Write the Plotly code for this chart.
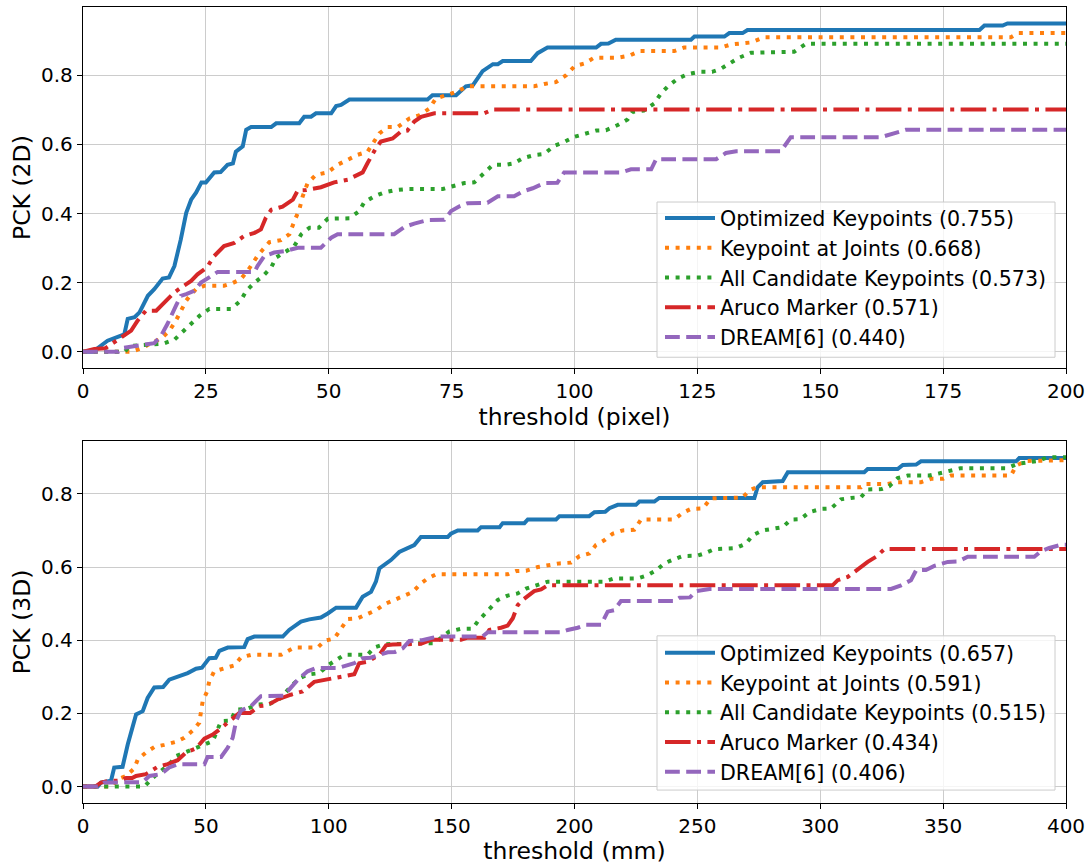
import plotly.graph_objects as go

# ---------------- data: top (2D, pixel) ----------------
top_blue_x = [0, 2, 5.0, 7.1, 8.4, 9.1, 10.5, 11.5, 13.2, 14.5, 16.2, 17.5, 18.6, 19.9, 21.0, 22.0, 23.0, 24.1, 25.0, 26.7, 28.0, 29.4, 30.5, 31.1, 32.5, 33.2, 34.2, 38.3, 39.3, 44.0, 45.0, 46.4, 47.4, 50.5, 51.5, 52.5, 54.2, 70.1, 71.1, 75.9, 77.9, 79.3, 81.3, 83.4, 84.4, 85.4, 91.1, 92.5, 94.5, 104.4, 105.4, 106.9, 108.4, 123.7, 124.4, 130.5, 131.5, 134.2, 135.2, 182.4, 183.4, 187.1, 188.1, 200]
top_blue_y = [0, 0, 0.032, 0.042, 0.05, 0.095, 0.10, 0.114, 0.162, 0.181, 0.212, 0.215, 0.248, 0.325, 0.402, 0.44, 0.46, 0.49, 0.49, 0.519, 0.52, 0.541, 0.545, 0.579, 0.594, 0.642, 0.65, 0.65, 0.661, 0.661, 0.68, 0.68, 0.69, 0.69, 0.711, 0.714, 0.73, 0.73, 0.742, 0.742, 0.768, 0.771, 0.812, 0.832, 0.832, 0.841, 0.841, 0.864, 0.88, 0.88, 0.891, 0.892, 0.903, 0.903, 0.912, 0.912, 0.922, 0.922, 0.931, 0.931, 0.944, 0.944, 0.950, 0.950]

top_orange_x = [0, 9.8, 12.1, 14.2, 15.8, 17.6, 18.9, 19.9, 21.0, 22.0, 23.0, 24.7, 28.7, 30.3, 32.1, 33.5, 34.5, 35.5, 36.6, 37.9, 40.3, 42.0, 43.0, 44.0, 44.7, 45.7, 47.4, 49.8, 51.8, 53.9, 55.9, 57.9, 60.3, 62.0, 64.0, 66.4, 68.4, 70.5, 71.8, 73.9, 75.9, 78.3, 91.8, 93.9, 96.2, 98.3, 100.0, 102.0, 104.0, 108.8, 111.2, 113.2, 120.3, 122.3, 129.8, 131.8, 134.0, 136.0, 138.6, 188.8, 190.2, 200]
top_orange_y = [0, 0, 0.011, 0.028, 0.037, 0.061, 0.09, 0.119, 0.148, 0.167, 0.181, 0.191, 0.191, 0.198, 0.21, 0.234, 0.258, 0.277, 0.296, 0.317, 0.323, 0.34, 0.378, 0.411, 0.45, 0.488, 0.512, 0.519, 0.541, 0.556, 0.57, 0.579, 0.632, 0.65, 0.65, 0.675, 0.684, 0.704, 0.733, 0.742, 0.752, 0.768, 0.768, 0.775, 0.78, 0.80, 0.826, 0.834, 0.851, 0.851, 0.857, 0.870, 0.870, 0.88, 0.88, 0.889, 0.891, 0.895, 0.91, 0.91, 0.922, 0.922]

top_green_x = [0, 8.5, 9.5, 14.5, 16.2, 18.6, 20.3, 22.0, 23.7, 25.7, 30.1, 32.1, 33.2, 34.9, 36.6, 38.3, 39.3, 41.3, 43.0, 44.4, 46.1, 48.0, 49.8, 54.2, 56.2, 57.2, 59.3, 61.3, 63.3, 66.0, 73.2, 75.2, 77.6, 79.6, 81.6, 83.4, 86.0, 87.7, 89.5, 91.8, 93.8, 95.9, 97.9, 100.0, 102.0, 104.4, 106.4, 108.8, 110.8, 111.8, 114.1, 116.2, 117.6, 119.0, 121.0, 123.0, 125.4, 128.0, 129.8, 131.8, 133.5, 135.9, 144.7, 147.1, 200]
top_green_y = [0, 0, 0.017, 0.02, 0.023, 0.035, 0.057, 0.081, 0.104, 0.124, 0.124, 0.148, 0.176, 0.2, 0.219, 0.244, 0.273, 0.29, 0.306, 0.34, 0.359, 0.359, 0.385, 0.386, 0.407, 0.432, 0.45, 0.461, 0.467, 0.471, 0.471, 0.479, 0.488, 0.49, 0.515, 0.541, 0.541, 0.545, 0.56, 0.569, 0.572, 0.596, 0.607, 0.622, 0.63, 0.64, 0.641, 0.656, 0.672, 0.694, 0.698, 0.718, 0.747, 0.768, 0.79, 0.803, 0.81, 0.81, 0.819, 0.836, 0.851, 0.865, 0.868, 0.891, 0.891]

top_red_x = [0, 2.3, 4.5, 6.4, 8.4, 9.8, 11.1, 12.8, 14.9, 16.9, 18.6, 19.9, 22.0, 23.3, 25.2, 26.7, 28.7, 30.8, 32.8, 34.9, 36.2, 37.2, 38.3, 40.6, 42.7, 43.7, 45.4, 48.4, 51.1, 53.9, 56.9, 57.9, 59.6, 60.6, 63.0, 64.7, 66.0, 67.4, 68.8, 71.5, 81.6, 83.4, 200]
top_red_y = [0, 0.008, 0.01, 0.028, 0.049, 0.061, 0.09, 0.119, 0.119, 0.148, 0.172, 0.185, 0.205, 0.224, 0.244, 0.277, 0.306, 0.315, 0.335, 0.344, 0.354, 0.388, 0.411, 0.42, 0.44, 0.467, 0.468, 0.476, 0.49, 0.498, 0.519, 0.546, 0.589, 0.608, 0.617, 0.637, 0.64, 0.666, 0.68, 0.69, 0.69, 0.701, 0.701]

top_purple_x = [0, 7.2, 8.2, 10.4, 13.2, 14.5, 15.9, 17.2, 18.9, 19.9, 21.0, 22.6, 24.0, 26.0, 27.4, 34.9, 35.5, 36.9, 38.9, 41.0, 43.7, 48.4, 50.5, 51.8, 63.3, 65.4, 67.4, 70.1, 73.5, 74.9, 76.6, 78.3, 82.3, 84.4, 87.7, 89.5, 91.5, 93.9, 96.5, 97.9, 109.5, 111.5, 115.6, 116.6, 128.8, 130.8, 132.9, 142.0, 144.0, 162.4, 165.1, 167.4, 200]
top_purple_y = [0, 0, 0.011, 0.015, 0.023, 0.025, 0.047, 0.081, 0.133, 0.162, 0.167, 0.176, 0.2, 0.22, 0.231, 0.231, 0.248, 0.277, 0.287, 0.291, 0.301, 0.301, 0.33, 0.34, 0.34, 0.361, 0.371, 0.381, 0.382, 0.407, 0.421, 0.43, 0.431, 0.45, 0.45, 0.464, 0.473, 0.488, 0.489, 0.519, 0.519, 0.528, 0.528, 0.557, 0.557, 0.575, 0.58, 0.58, 0.621, 0.621, 0.632, 0.642, 0.642]

# ---------------- data: bottom (3D, mm) ----------------
bot_blue_x = [0, 6, 7.3, 11.4, 12.7, 16.1, 18.2, 20.2, 21.6, 24.3, 26.3, 29.0, 32.6, 35.1, 38.5, 42.6, 46.0, 48.4, 51.4, 54.0, 55.5, 58.9, 65.6, 67.0, 69.7, 81.3, 83.9, 88.7, 92.1, 96.8, 99.6, 103.0, 111.1, 113.8, 117.2, 119.2, 120.6, 122.6, 125.3, 128.7, 132.1, 134.8, 137.5, 148.4, 149.7, 152.5, 160.6, 162, 169.5, 170.8, 179.6, 181, 192.5, 193.9, 206.0, 208.1, 212.5, 214.2, 217.6, 225, 226.4, 232.5, 234.5, 273.2, 274.5, 276.6, 284.7, 286.8, 317.9, 319.3, 331.5, 333.6, 339, 341, 379.7, 381.0, 400]
bot_blue_y = [0, 0, 0.011, 0.016, 0.052, 0.054, 0.115, 0.16, 0.197, 0.206, 0.242, 0.271, 0.272, 0.292, 0.301, 0.31, 0.322, 0.325, 0.351, 0.352, 0.371, 0.38, 0.381, 0.403, 0.41, 0.41, 0.428, 0.451, 0.457, 0.462, 0.473, 0.489, 0.489, 0.519, 0.532, 0.56, 0.596, 0.605, 0.619, 0.641, 0.652, 0.66, 0.682, 0.682, 0.691, 0.70, 0.70, 0.709, 0.709, 0.72, 0.72, 0.73, 0.73, 0.739, 0.739, 0.75, 0.751, 0.761, 0.77, 0.77, 0.779, 0.779, 0.789, 0.789, 0.818, 0.832, 0.835, 0.859, 0.859, 0.868, 0.868, 0.879, 0.88, 0.889, 0.889, 0.898, 0.898]

bot_orange_x = [0, 12, 14.1, 17.5, 20.9, 22.3, 25.6, 29.0, 33.1, 37.8, 41.2, 44.6, 47.3, 48.0, 48.7, 50.5, 51.4, 53.4, 57.5, 61.6, 64.3, 68.4, 80.6, 82.6, 86.0, 95.5, 98.2, 102.3, 105.0, 107.7, 111.8, 115.8, 119.2, 122.6, 126.7, 130.1, 134.2, 137.5, 140.3, 143.6, 172.8, 176.2, 180.3, 185, 189.1, 193.9, 198.6, 202, 206, 208.7, 212.1, 215.5, 219.6, 224.3, 227.1, 240.6, 244.0, 247.4, 252.2, 255.5, 268.4, 271.1, 274, 316.6, 317.9, 327.4, 331.5, 341, 345.1, 350, 353.2, 377.6, 379.7, 383.7, 400]
bot_orange_y = [0, 0, 0.02, 0.029, 0.05, 0.074, 0.093, 0.108, 0.114, 0.122, 0.133, 0.153, 0.174, 0.201, 0.233, 0.26, 0.288, 0.315, 0.322, 0.331, 0.353, 0.36, 0.36, 0.367, 0.38, 0.38, 0.398, 0.405, 0.433, 0.458, 0.46, 0.471, 0.482, 0.498, 0.51, 0.519, 0.532, 0.555, 0.569, 0.58, 0.58, 0.589, 0.59, 0.60, 0.605, 0.61, 0.612, 0.63, 0.637, 0.66, 0.673, 0.691, 0.70, 0.702, 0.73, 0.73, 0.748, 0.759, 0.76, 0.788, 0.79, 0.809, 0.818, 0.818, 0.827, 0.827, 0.832, 0.832, 0.841, 0.841, 0.85, 0.85, 0.877, 0.89, 0.892]

bot_green_x = [0, 25, 28.4, 31.7, 35.1, 37.8, 41.2, 45.3, 49.4, 52.8, 56.2, 60, 62.3, 66.4, 71.1, 76, 80.6, 84.6, 88.0, 91.4, 96.2, 99.6, 106.3, 115.8, 118.5, 122.6, 130, 133.5, 143, 149.1, 153.8, 158.5, 160.6, 164.7, 168.8, 172.8, 176.9, 180.3, 184.3, 189.1, 212.1, 216.2, 225.7, 229.8, 233.2, 236.6, 240, 244, 250, 252.8, 256.9, 265.7, 269.8, 272.5, 276.6, 284.7, 288.1, 292, 295.6, 300.3, 304.4, 308.4, 312.5, 316.6, 319.3, 325, 328.1, 331.5, 335.6, 344.4, 349.1, 353.2, 357, 376, 380.3, 384.4, 388.5, 392.5, 400]
bot_green_y = [0, 0, 0.024, 0.043, 0.061, 0.083, 0.092, 0.104, 0.116, 0.124, 0.179, 0.18, 0.21, 0.212, 0.224, 0.226, 0.242, 0.274, 0.295, 0.306, 0.31, 0.331, 0.36, 0.36, 0.38, 0.389, 0.39, 0.392, 0.392, 0.424, 0.431, 0.431, 0.451, 0.48, 0.51, 0.522, 0.528, 0.541, 0.55, 0.56, 0.56, 0.569, 0.569, 0.578, 0.591, 0.61, 0.62, 0.63, 0.631, 0.637, 0.649, 0.652, 0.664, 0.687, 0.70, 0.709, 0.73, 0.731, 0.75, 0.759, 0.76, 0.785, 0.789, 0.791, 0.812, 0.813, 0.821, 0.843, 0.85, 0.85, 0.857, 0.863, 0.87, 0.87, 0.882, 0.886, 0.89, 0.90, 0.90]

bot_red_x = [0, 5, 7.3, 11, 15, 17.5, 20, 21.6, 25.6, 30.4, 34.5, 38.5, 41.9, 46.0, 49.4, 52.8, 55.5, 58.9, 63.6, 68, 71.7, 75, 79.2, 84.6, 89.4, 94.1, 99.6, 105.7, 110.4, 112.4, 115.8, 120.6, 123.3, 126, 137.5, 141.6, 153.8, 156.5, 163.3, 165.3, 170.1, 172.8, 174.9, 176.9, 178.9, 183.6, 186.4, 189.1, 305, 307.1, 311.2, 313.9, 316.6, 319.3, 322.7, 326.1, 400]
bot_red_y = [0, 0, 0.011, 0.016, 0.016, 0.023, 0.023, 0.029, 0.034, 0.054, 0.061, 0.072, 0.093, 0.104, 0.131, 0.142, 0.156, 0.174, 0.201, 0.201, 0.22, 0.222, 0.238, 0.251, 0.26, 0.286, 0.292, 0.301, 0.307, 0.337, 0.341, 0.36, 0.386, 0.388, 0.390, 0.401, 0.401, 0.407, 0.407, 0.428, 0.434, 0.44, 0.46, 0.496, 0.51, 0.534, 0.539, 0.55, 0.55, 0.564, 0.573, 0.587, 0.60, 0.614, 0.628, 0.649, 0.649]

bot_purple_x = [0, 6, 8.7, 19.5, 24.3, 27, 31.7, 35.1, 38.5, 49.4, 50.7, 56.2, 58.9, 60.9, 62.3, 64.3, 68.4, 72.4, 81.9, 83.9, 87.4, 91.4, 94.8, 103.6, 107.7, 110.4, 113.8, 117, 120.6, 124, 127, 130.1, 132.8, 138, 142.3, 145, 162.6, 164.7, 194.5, 197.2, 201.3, 204.7, 210.8, 213.5, 216.2, 218.9, 240.6, 242.7, 247, 249.4, 255, 328.8, 332.9, 336.9, 339, 343, 346.4, 351.9, 356, 360, 387.1, 389.8, 393.2, 398, 400]
bot_purple_y = [0, 0, 0.011, 0.011, 0.012, 0.029, 0.034, 0.052, 0.061, 0.061, 0.081, 0.081, 0.106, 0.133, 0.179, 0.208, 0.22, 0.247, 0.248, 0.265, 0.292, 0.315, 0.324, 0.324, 0.331, 0.337, 0.351, 0.352, 0.36, 0.367, 0.368, 0.378, 0.398, 0.40, 0.407, 0.41, 0.41, 0.422, 0.422, 0.428, 0.434, 0.442, 0.442, 0.478, 0.482, 0.507, 0.507, 0.516, 0.517, 0.534, 0.54, 0.54, 0.55, 0.564, 0.591, 0.592, 0.603, 0.614, 0.615, 0.628, 0.628, 0.643, 0.652, 0.661, 0.661]

top_labels = ["Optimized Keypoints (0.755)", "Keypoint at Joints (0.668)",
              "All Candidate Keypoints (0.573)", "Aruco Marker (0.571)", "DREAM[6] (0.440)"]
bot_labels = ["Optimized Keypoints (0.657)", "Keypoint at Joints (0.591)",
              "All Candidate Keypoints (0.515)", "Aruco Marker (0.434)", "DREAM[6] (0.406)"]
x_ticks_top = [0, 25, 50, 75, 100, 125, 150, 175, 200]
x_ticks_bot = [0, 50, 100, 150, 200, 250, 300, 350, 400]
y_ticks = [0.0, 0.2, 0.4, 0.6, 0.8]

colors = ["#1f77b4", "#ff7f0e", "#2ca02c", "#d62728", "#9467bd"]
dashes = ["solid", "4px,6.6px", "4px,6.6px", "25.6px,6.4px,4px,6.4px", "14.8px,6.4px"]
LW = 4
FONT = "DejaVu Sans"

# pixel geometry helpers (plot area: x 83..1066, y 6..806)
L, R, T, B = 83, 1066, 6, 806
def px_x(X):
    return (X - L) / (R - L)
def px_y(Y):
    return (B - Y) / (B - T)

fig = go.Figure()
top_series = [(top_blue_x, top_blue_y), (top_orange_x, top_orange_y), (top_green_x, top_green_y),
              (top_red_x, top_red_y), (top_purple_x, top_purple_y)]
bot_series = [(bot_blue_x, bot_blue_y), (bot_orange_x, bot_orange_y), (bot_green_x, bot_green_y),
              (bot_red_x, bot_red_y), (bot_purple_x, bot_purple_y)]

for i, (xs, ys) in enumerate(top_series):
    fig.add_trace(go.Scatter(x=xs, y=ys, mode="lines", name=top_labels[i],
                             line=dict(color=colors[i], width=LW, dash=dashes[i]),
                             xaxis="x", yaxis="y", legend="legend"))
for i, (xs, ys) in enumerate(bot_series):
    fig.add_trace(go.Scatter(x=xs, y=ys, mode="lines", name=bot_labels[i],
                             line=dict(color=colors[i], width=LW, dash=dashes[i]),
                             xaxis="x2", yaxis="y2", legend="legend2"))

axis_common = dict(showline=True, linecolor="black", linewidth=1.3, mirror=True,
                   ticks="outside", ticklen=5, tickwidth=1.3, tickcolor="black",
                   showgrid=True, gridcolor="#cccccc", gridwidth=1.3, zeroline=False,
                   tickfont=dict(family=FONT, size=20, color="black"))

legend_common = dict(font=dict(family=FONT, size=20.6, color="black"),
                     bgcolor="rgba(0,0,0,0)", borderwidth=0, itemwidth=50,
                     xanchor="left", yanchor="top", x=px_x(660))

# legend frames (matplotlib-style translucent boxes)
shapes = [
    dict(type="rect", xref="paper", yref="paper", layer="above",
         x0=px_x(657), x1=px_x(1055), y0=px_y(358), y1=px_y(202),
         fillcolor="rgba(255,255,255,0.8)", line=dict(color="#cccccc", width=1)),
    dict(type="rect", xref="paper", yref="paper", layer="above",
         x0=px_x(657), x1=px_x(1055), y0=px_y(793), y1=px_y(638),
         fillcolor="rgba(255,255,255,0.8)", line=dict(color="#cccccc", width=1)),
]

fig.update_layout(
    width=1091, height=865,
    margin=dict(l=L, r=1091 - R, t=T, b=865 - B),
    plot_bgcolor="white", paper_bgcolor="white",
    font=dict(family=FONT, color="black"),
    shapes=shapes,
    xaxis=dict(axis_common, domain=[0, 1], range=[0, 200], tickvals=x_ticks_top,
               anchor="y", title=dict(text="threshold (pixel)", font=dict(family=FONT, size=23.5), standoff=4)),
    yaxis=dict(axis_common, domain=[px_y(369), 1], range=[-0.0475, 0.9975], tickvals=y_ticks,
               tickformat=".1f", anchor="x",
               title=dict(text="PCK (2D)", font=dict(family=FONT, size=23.5), standoff=3)),
    xaxis2=dict(axis_common, domain=[0, 1], range=[0, 400], tickvals=x_ticks_bot,
                anchor="y2", title=dict(text="threshold (mm)", font=dict(family=FONT, size=23.5), standoff=4)),
    yaxis2=dict(axis_common, domain=[0, px_y(442)], range=[-0.045, 0.945], tickvals=y_ticks,
                tickformat=".1f", anchor="x2",
                title=dict(text="PCK (3D)", font=dict(family=FONT, size=23.5), standoff=3)),
    legend=dict(legend_common, y=px_y(198)),
    legend2=dict(legend_common, y=px_y(635)),
)

fig.write_html("out.html", config={"displayModeBar": False},
               post_script="document.body.style.margin='0px';")
